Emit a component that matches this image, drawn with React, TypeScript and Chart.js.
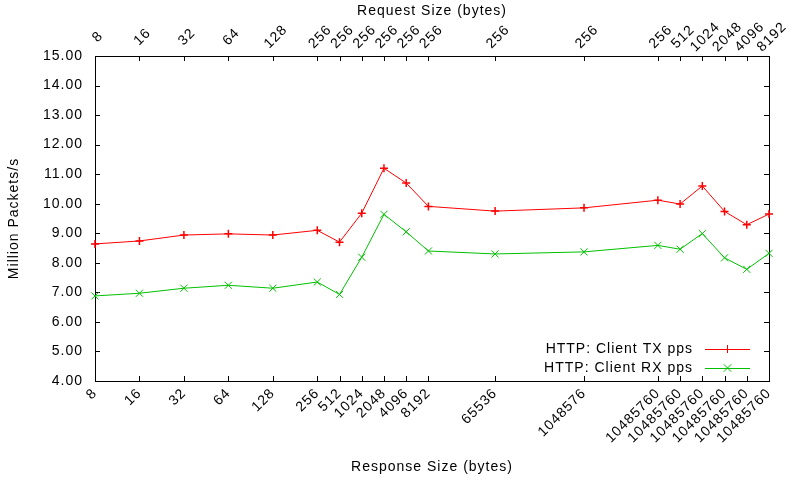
import React, { useEffect, useRef } from "react";
import { Chart, registerables } from "chart.js";
Chart.register(...registerables);

const requestSizes = [8, 16, 32, 64, 128, 256, 256, 256, 256, 256, 256, 256, 256, 256, 512, 1024, 2048, 4096, 8192];
const responseSizes = [8, 16, 32, 64, 128, 256, 512, 1024, 2048, 4096, 8192, 65536, 1048576, 10485760, 10485760, 10485760, 10485760, 10485760, 10485760];
const txPps = [8.64, 8.74, 8.94, 8.98, 8.94, 9.1, 8.7, 9.68, 11.2, 10.7, 9.91, 9.75, 9.86, 10.12, 9.99, 10.6, 9.74, 9.29, 9.65];
const rxPps = [6.88, 6.97, 7.14, 7.24, 7.14, 7.35, 6.93, 8.19, 9.64, 9.05, 8.4, 8.3, 8.37, 8.59, 8.46, 8.99, 8.17, 7.78, 8.32];
const seriesLabels = ["HTTP: Client TX pps", "HTTP: Client RX pps"];
const seriesColors = ["#ff0000", "#00c000"];
const yMin = 4;
const yMax = 15;

const products = requestSizes.map((r, i) => r * responseSizes[i]);
const FONT = "Liberation Sans, Arial, sans-serif";

const spacingPlugin = {
  id: "spacing",
  beforeUpdate(chart: any) {
    chart.ctx.letterSpacing = "1px";
  },
  beforeLayout(chart: any) {
    chart.ctx.letterSpacing = "1px";
  },
  beforeDraw(chart: any) {
    chart.ctx.letterSpacing = "1px";
  },
};

const framePlugin = {
  id: "frame",
  beforeDatasetsDraw(chart: any) {
    const { ctx, chartArea } = chart;
    const { left, right, top, bottom } = chartArea;
    ctx.save();
    ctx.strokeStyle = "#000";
    ctx.lineWidth = 1;
    ctx.beginPath();
    const tl = 5;
    const xs = chart.scales.x;
    for (const t of xs.ticks) {
      const px = Math.round(xs.getPixelForValue(t.value)) + 0.5;
      ctx.moveTo(px, bottom);
      ctx.lineTo(px, bottom - tl);
      ctx.moveTo(px, top);
      ctx.lineTo(px, top + tl);
    }
    const ys = chart.scales.y;
    for (const t of ys.ticks) {
      const py = Math.round(ys.getPixelForValue(t.value)) + 0.5;
      ctx.moveTo(left, py);
      ctx.lineTo(left + tl, py);
      ctx.moveTo(right, py);
      ctx.lineTo(right - tl, py);
    }
    ctx.stroke();
    ctx.strokeRect(Math.round(left) + 0.5, Math.round(top) + 0.5, Math.round(right - left), Math.round(bottom - top));

    // top (request size) tick labels, centred and rotated
    const x2 = chart.scales.x2;
    ctx.font = `14px ${FONT}`;
    ctx.fillStyle = "#000";
    ctx.textAlign = "center";
    ctx.textBaseline = "middle";
    requestSizes.forEach((r, i) => {
      const px = x2.getPixelForValue(products[i]);
      ctx.save();
      ctx.translate(px + 3, 37);
      ctx.rotate(-Math.PI / 4);
      ctx.fillText(String(r), 0, 0);
      ctx.restore();
    });
    ctx.restore();
  },
  afterDatasetsDraw(chart: any) {
    const { ctx } = chart;
    ctx.save();
    ctx.font = `14px ${FONT}`;
    ctx.textAlign = "right";
    ctx.textBaseline = "middle";
    const rows = [349, 368];
    chart.data.datasets.forEach((ds: any, i: number) => {
      const y = rows[i];
      ctx.fillStyle = "#000";
      ctx.fillText(ds.label, 693, y);
      ctx.strokeStyle = ds.borderColor;
      ctx.lineWidth = 1;
      ctx.beginPath();
      ctx.moveTo(705, y + 0.5);
      ctx.lineTo(750, y + 0.5);
      ctx.stroke();
      const r = ds.pointRadius;
      ctx.beginPath();
      if (ds.pointStyle === "cross") {
        ctx.moveTo(727.5 - r, y + 0.5);
        ctx.lineTo(727.5 + r, y + 0.5);
        ctx.moveTo(727.5, y - r);
        ctx.lineTo(727.5, y + r);
      } else {
        const d = r * 0.75;
        ctx.moveTo(727.5 - d, y - d);
        ctx.lineTo(727.5 + d, y + d);
        ctx.moveTo(727.5 - d, y + d);
        ctx.lineTo(727.5 + d, y - d);
      }
      ctx.stroke();
    });
    ctx.restore();
  },
};

export default function App() {
  const ref = useRef<HTMLCanvasElement>(null);
  useEffect(() => {
    if (!ref.current) return;
    const fixTicks = (scale: any) => {
      scale.ticks = products.map((v) => ({ value: v }));
    };
    const chart = new Chart(ref.current, {
      type: "line",
      data: {
        datasets: [
          {
            label: seriesLabels[0],
            data: products.map((p, i) => ({ x: p, y: txPps[i] })),
            borderColor: seriesColors[0],
            backgroundColor: seriesColors[0],
            borderWidth: 1,
            pointStyle: "cross",
            pointRadius: 4,
            pointBorderWidth: 1.5,
            fill: false,
            tension: 0,
            clip: false,
          },
          {
            label: seriesLabels[1],
            data: products.map((p, i) => ({ x: p, y: rxPps[i] })),
            borderColor: seriesColors[1],
            backgroundColor: seriesColors[1],
            borderWidth: 1,
            pointStyle: "crossRot",
            pointRadius: 5,
            pointBorderWidth: 1,
            fill: false,
            tension: 0,
            clip: false,
          },
        ] as any,
      },
      options: {
        animation: false,
        responsive: false,
        layout: { padding: { left: 0, right: 31, top: 0, bottom: 0 } },
        plugins: { legend: { display: false }, tooltip: { enabled: false } },
        scales: {
          x: {
            type: "logarithmic",
            position: "bottom",
            min: products[0],
            max: products[products.length - 1],
            afterBuildTicks: fixTicks,
            afterFit: (s: any) => {
              s.height = 99;
              s.paddingLeft = s.paddingRight = s.paddingTop = s.paddingBottom = 0;
            },
            grid: { display: false, drawTicks: false },
            border: { display: false },
            ticks: {
              autoSkip: false,
              minRotation: 45,
              maxRotation: 45,
              padding: 4,
              color: "#000",
              font: { family: FONT, size: 14 },
              callback: (_v: any, i: number) => String(responseSizes[i]),
            },
            title: {
              display: true,
              text: "Response Size (bytes)",
              color: "#000",
              font: { family: FONT, size: 14 },
              padding: { top: 0, bottom: 4 },
            },
          },
          x2: {
            type: "logarithmic",
            position: "top",
            min: products[0],
            max: products[products.length - 1],
            afterBuildTicks: fixTicks,
            afterFit: (s: any) => {
              s.height = 56;
              s.paddingLeft = s.paddingRight = s.paddingTop = s.paddingBottom = 0;
            },
            grid: { display: false, drawTicks: false },
            border: { display: false },
            ticks: {
              display: false,
              autoSkip: false,
            },
            title: {
              display: true,
              text: "Request Size (bytes)",
              color: "#000",
              font: { family: FONT, size: 14 },
              padding: { top: 3, bottom: 0 },
            },
          },
          y: {
            type: "linear",
            min: yMin,
            max: yMax,
            afterFit: (s: any) => {
              s.width = 95;
              s.paddingLeft = s.paddingRight = s.paddingTop = s.paddingBottom = 0;
            },
            grid: { display: false, drawTicks: false },
            border: { display: false },
            ticks: {
              stepSize: 1,
              padding: 12,
              color: "#000",
              font: { family: FONT, size: 14 },
              callback: (v: any) => Number(v).toFixed(2),
            },
            title: {
              display: true,
              text: "Million Packets/s",
              color: "#000",
              font: { family: FONT, size: 14 },
              padding: { top: 6, bottom: 0 },
            },
          },
        },
      } as any,
      plugins: [spacingPlugin, framePlugin],
    });
    return () => chart.destroy();
  }, []);
  return (
    <div style={{ position: "absolute", left: 0, top: 0, width: 800, height: 480, background: "#fff" }}>
      <canvas ref={ref} width={800} height={480} style={{ display: "block" }} />
    </div>
  );
}
